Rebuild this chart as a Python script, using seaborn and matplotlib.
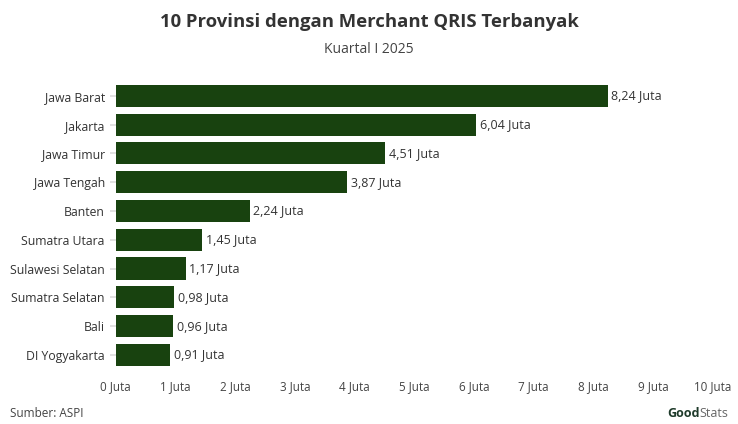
import matplotlib
matplotlib.use("Agg")
import matplotlib.pyplot as plt
import seaborn as sns
import pandas as pd

provinces = ["Jawa Barat", "Jakarta", "Jawa Timur", "Jawa Tengah", "Banten",
             "Sumatra Utara", "Sulawesi Selatan", "Sumatra Selatan", "Bali",
             "DI Yogyakarta"]
merchants = [8.24, 6.04, 4.51, 3.87, 2.24, 1.45, 1.17, 0.98, 0.96, 0.91]
x_ticks = list(range(0, 11))

df = pd.DataFrame({"provinsi": provinces, "juta": merchants})

sns.set_theme(style="white")
plt.rcParams["font.family"] = ["Open Sans", "DejaVu Sans"]

fig = plt.figure(figsize=(7.38, 4.24), dpi=100)
ax = fig.add_axes([0.157, 0.129, 0.809, 0.679])

sns.barplot(data=df, x="juta", y="provinsi", color="#18420f", width=0.77,
            saturation=1, linewidth=0, ax=ax)

for i, v in enumerate(merchants):
    ax.text(v + 0.06, i, f"{v:.2f}".replace(".", ",") + " Juta",
            va="center", ha="left", fontsize=9, color="#333333")

ax.set_xlim(0, 10)
ax.set_ylim(9.5, -0.5)
ax.set_xticks(x_ticks)
ax.set_xticklabels([f"{t} Juta" for t in x_ticks], fontsize=8.4, color="#444444")
ax.tick_params(axis="x", length=0, pad=8)
ax.tick_params(axis="y", length=4, color="#dddddd", labelsize=8.8,
               labelcolor="#333333", left=True, pad=4)
ax.set_xlabel("")
ax.set_ylabel("")
for s in ax.spines.values():
    s.set_visible(False)

fig.text(0.5, 0.948, "10 Provinsi dengan Merchant QRIS Terbanyak",
         ha="center", va="center", fontsize=13.3, fontweight="bold", color="#333333")
fig.text(0.5, 0.884, "Kuartal I 2025", ha="center", va="center",
         fontsize=10, color="#444444")
fig.text(0.014, 0.024, "Sumber: ASPI", ha="left", va="center",
         fontsize=8.5, color="#444444")
fig.text(0.948, 0.024, "Good", ha="right", va="center", fontsize=9,
         fontweight="bold", color="#1e3a2a")
fig.text(0.948, 0.024, "Stats", ha="left", va="center", fontsize=9,
         color="#666666")

fig.savefig("out.png", dpi=100)
